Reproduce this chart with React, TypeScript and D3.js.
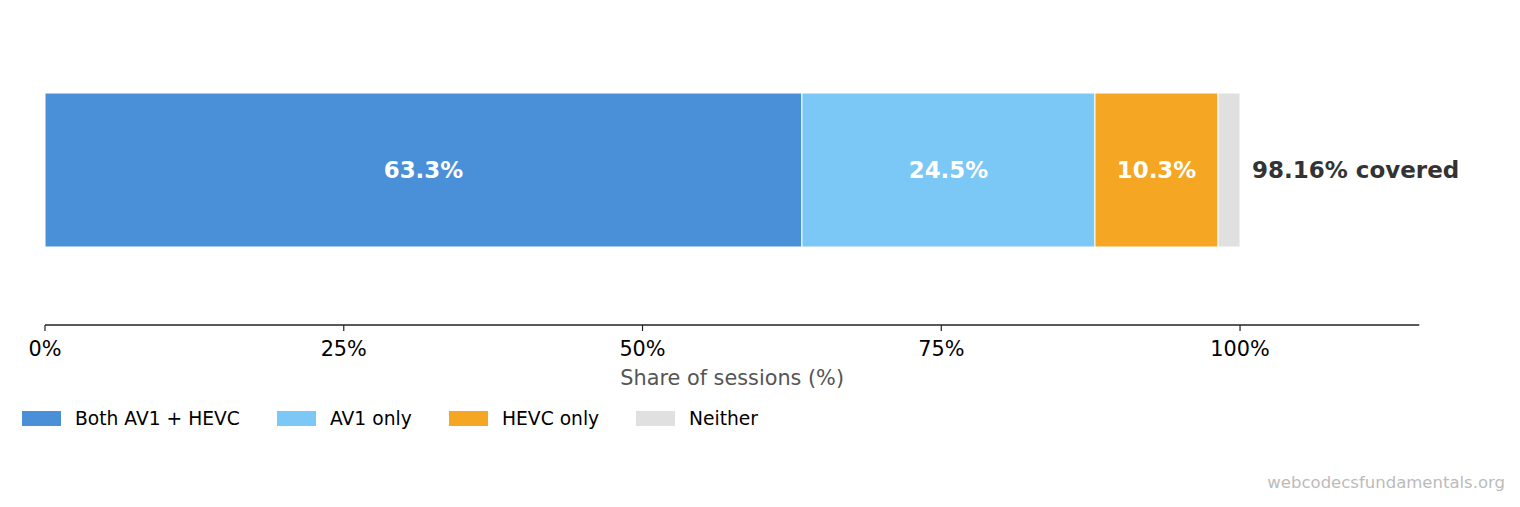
import React from "react";
import * as d3 from "d3";

const categories = ["Both AV1 + HEVC", "AV1 only", "HEVC only", "Neither"];
const values = [63.34, 24.52, 10.3, 1.84];
const colors = ["#4A90D9", "#7BC8F6", "#F5A623", "#E0E0E0"];
const barLabels = ["63.3%", "24.5%", "10.3%", ""];
const tickValues = [0, 25, 50, 75, 100];
const coveredLabel = "98.16% covered";

const W = 1520;
const H = 507;
const FONT = "DejaVu Sans, sans-serif";

export default function App() {
  const x = d3.scaleLinear().domain([0, 115]).range([45, 1419.3]);
  const bandY = 93;
  const bandH = 154;

  let cum = 0;
  const segs = values.map((v, i) => {
    const s = { x0: cum, x1: cum + v, color: colors[i], label: barLabels[i] };
    cum += v;
    return s;
  });
  const axisY = 325;
  const legendX = [22, 277, 449, 636];

  return (
    <svg width={W} height={H} style={{ display: "block", position: "absolute", left: 0, top: 0 }} fontFamily={FONT}>
      <rect width={W} height={H} fill="#fff" />
      {segs.map((s, i) => (
        <g key={i}>
          <rect
            x={x(s.x0)}
            y={bandY}
            width={x(s.x1) - x(s.x0)}
            height={bandH}
            fill={s.color}
            stroke="#fff"
            strokeWidth={1}
          />
          {s.label && (
            <text
              x={(x(s.x0) + x(s.x1)) / 2}
              y={bandY + bandH / 2}
              dy="0.35em"
              textAnchor="middle"
              fill="#fff"
              fontWeight="bold"
              fontSize={22.9}
            >
              {s.label}
            </text>
          )}
        </g>
      ))}
      <text x={x(cum) + 12} y={bandY + bandH / 2} dy="0.35em" fill="#333" fontWeight="bold" fontSize={23}>
        {coveredLabel}
      </text>
      <line x1={x(0)} x2={x(115)} y1={axisY} y2={axisY} stroke="#222" strokeWidth={1.6} />
      {tickValues.map((t) => (
        <g key={t}>
          <line x1={x(t)} x2={x(t)} y1={axisY} y2={axisY + 6} stroke="#222" strokeWidth={1.2} />
          <text x={x(t)} y={axisY + 31} textAnchor="middle" fill="#000" fontSize={20.8}>
            {t}%
          </text>
        </g>
      ))}
      <text x={(x(0) + x(115)) / 2} y={385} textAnchor="middle" fill="#555" fontSize={20.8}>
        Share of sessions (%)
      </text>
      {categories.map((c, i) => (
        <g key={c}>
          <rect x={legendX[i]} y={411} width={39} height={15} fill={colors[i]} />
          <text x={legendX[i] + 53} y={425} fill="#000" fontSize={18.7}>
            {c}
          </text>
        </g>
      ))}
      <text x={1505} y={488} textAnchor="end" fill="#bbb" fontSize={16.5}>
        webcodecsfundamentals.org
      </text>
    </svg>
  );
}
